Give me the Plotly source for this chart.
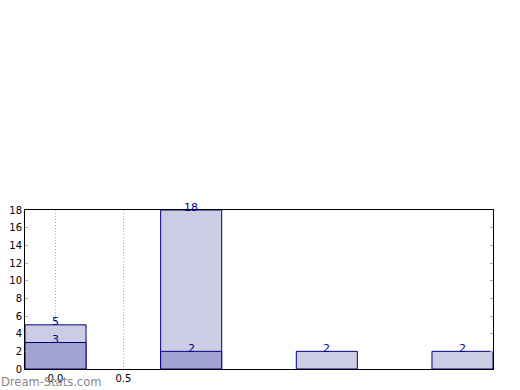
import plotly.graph_objects as go

positions = [0, 1, 2, 3]
light_values = [5, 18, 2, 2]
dark_values = [3, 2, 0, 0]
x_tick_vals = [0.0, 0.5]
x_tick_text = ["0.0", "0.5"]
y_tick_vals = [0, 2, 4, 6, 8, 10, 12, 14, 16, 18]

fig = go.Figure()
fig.add_trace(go.Bar(x=positions, y=light_values, width=0.45,
                     marker=dict(color="#ccccE5", line=dict(color="#000080", width=1))))
dx = [p for p, v in zip(positions, dark_values) if v > 0]
dy = [v for v in dark_values if v > 0]
fig.add_trace(go.Bar(x=dx, y=dy, width=0.45,
                     marker=dict(color="#a3a3d1", line=dict(color="#000080", width=1))))

for p, v in zip(positions, light_values):
    fig.add_annotation(x=p, y=v, text=str(v), showarrow=False, yanchor="middle",
                       yshift=3, font=dict(family="DejaVu Sans", size=11, color="#000080"))
for p, v in zip(dx, dy):
    fig.add_annotation(x=p, y=v, text=str(v), showarrow=False, yanchor="middle",
                       yshift=3, font=dict(family="DejaVu Sans", size=11, color="#000080"))

fig.add_annotation(xref="paper", yref="paper", x=-25/468, y=-21/159, xanchor="left", yanchor="bottom",
                   text="Dream-Stats.com", showarrow=False, borderpad=0,
                   font=dict(family="DejaVu Sans", size=11.5, color="#888888"))

fig.update_layout(
    width=520, height=390, barmode="overlay", showlegend=False,
    margin=dict(l=25, r=27, t=210, b=21, autoexpand=False),
    plot_bgcolor="white", paper_bgcolor="white",
    font=dict(family="DejaVu Sans", size=10, color="black"),
)
fig.update_xaxes(range=[-0.225, 3.225], tickvals=x_tick_vals, ticktext=x_tick_text,
                 showgrid=True, gridcolor="#aaaaaa", griddash="1px,2px", gridwidth=1,
                 showline=True, linecolor="black", linewidth=1, mirror=True,
                 ticks="", zeroline=False, automargin=False)
fig.update_yaxes(range=[0, 18], tickvals=y_tick_vals, showgrid=False,
                 showline=True, linecolor="black", linewidth=1, mirror="allticks",
                 ticks="inside", ticklen=3, tickcolor="#aaaaaa", zeroline=False, automargin=False)
fig.write_html("out.html")
